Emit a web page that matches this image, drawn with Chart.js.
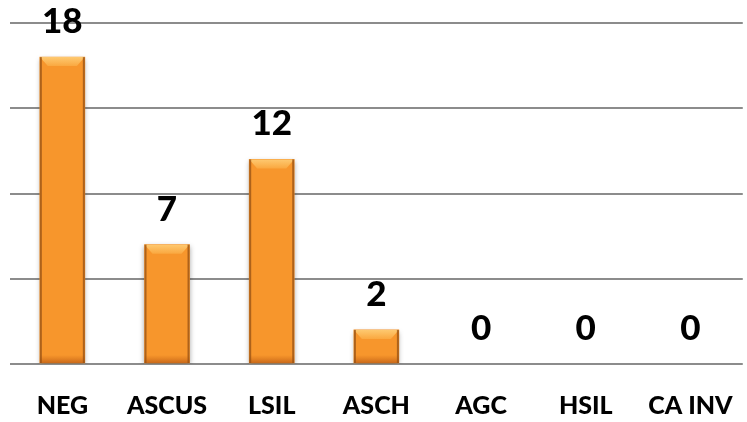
<!DOCTYPE html>
<html>
<head>
<meta charset="utf-8">
<title>Resultados citología</title>
<script src="https://cdn.jsdelivr.net/npm/chart.js@4.4.1/dist/chart.umd.min.js"></script>
<style>
    html, body { margin: 0; padding: 0; background: #fff; overflow: hidden; }
    #wrap { width: 747px; height: 422px; overflow: hidden; }
</style>
</head>
<body>
<div id="wrap"><canvas id="resultsChart" width="760" height="422"></canvas></div>
<script>
// categories and counts
const categories = ["NEG", "ASCUS", "LSIL", "ASCH", "AGC", "HSIL", "CA INV"];
const counts = [18, 7, 12, 2, 0, 0, 0];
const yTicks = [0, 5, 10, 15, 20];

const labelFont = "Lato";

// soft drop shadow behind the bars
const barShadow = {
    id: "barShadow",
    beforeDatasetsDraw(chart) {
        const ctx = chart.ctx;
        ctx.save();
        ctx.shadowColor = "rgba(0,0,0,0.35)";
        ctx.shadowBlur = 5;
        ctx.shadowOffsetX = 0;
        ctx.shadowOffsetY = 2;
    },
    afterDatasetsDraw(chart) {
        chart.ctx.restore();
    }
};

// bevel look: light top face, dark sides, darker bottom band
const barBevel = {
    id: "barBevel",
    afterDatasetsDraw(chart) {
        const ctx = chart.ctx;
        chart.getDatasetMeta(0).data.forEach(bar => {
            const h = bar.base - bar.y;
            if (h < 1) return;
            const l = bar.x - bar.width / 2, r = bar.x + bar.width / 2;
            const t = bar.y, b = bar.base;
            ctx.save();
            // top face
            const g = ctx.createLinearGradient(0, t, 0, t + 9);
            g.addColorStop(0, "#fec970");
            g.addColorStop(1, "#faa840");
            ctx.fillStyle = g;
            ctx.beginPath();
            ctx.moveTo(l, t);
            ctx.lineTo(r, t);
            ctx.lineTo(r - 8, t + 9);
            ctx.lineTo(l + 8, t + 9);
            ctx.closePath();
            ctx.fill();
            // bottom band
            const gb = ctx.createLinearGradient(0, b - 8, 0, b);
            gb.addColorStop(0, "rgba(200,100,20,0)");
            gb.addColorStop(1, "rgba(185,90,20,0.75)");
            ctx.fillStyle = gb;
            ctx.fillRect(l, b - 8, r - l, 8);
            // side edges
            ctx.fillStyle = "rgba(150,80,20,0.75)";
            ctx.fillRect(l, t, 2, h);
            ctx.fillRect(r - 2, t, 2, h);
            ctx.restore();
        });
    }
};

// value labels above each bar
const valueLabels = {
    id: "valueLabels",
    afterDatasetsDraw(chart) {
        const ctx = chart.ctx;
        ctx.save();
        ctx.font = "900 35px " + labelFont;
        ctx.fillStyle = "#000";
        ctx.textAlign = "center";
        ctx.textBaseline = "alphabetic";
        chart.getDatasetMeta(0).data.forEach((bar, i) => {
            ctx.fillText(String(counts[i]), bar.x, bar.y - 24);
        });
        ctx.restore();
    }
};

const ctx = document.getElementById("resultsChart").getContext("2d");

// horizontal shading across each bar
function barFill(context) {
    if (counts[context.dataIndex] === 0) return "rgba(0,0,0,0)";
    const el = context.element;
    if (!el || !el.width) return "#f7962c";
    const l = el.x - el.width / 2;
    const g = context.chart.ctx.createLinearGradient(l, 0, l + el.width, 0);
    g.addColorStop(0, "#e5802a");
    g.addColorStop(0.15, "#f7952a");
    g.addColorStop(0.85, "#f7952a");
    g.addColorStop(1, "#e5802a");
    return g;
}

new Chart(ctx, {
    type: "bar",
    data: {
        labels: categories,
        datasets: [{
            data: counts,
            backgroundColor: barFill,
            borderWidth: 0,
            barThickness: 45
        }]
    },
    options: {
        responsive: false,
        animation: false,
        layout: { padding: { left: 10, right: 5, top: 23, bottom: 0 } },
        plugins: {
            legend: { display: false },
            tooltip: { enabled: false }
        },
        scales: {
            x: {
                grid: { display: false, drawTicks: false },
                border: { display: false },
                afterFit: axis => { axis.height = 58; },
                ticks: {
                    padding: 27,
                    color: "#000",
                    font: { family: labelFont, size: 25, weight: "900" }
                }
            },
            y: {
                min: yTicks[0],
                max: yTicks[yTicks.length - 1],
                afterBuildTicks: axis => { axis.ticks = yTicks.map(v => ({ value: v })); },
                grid: { color: "#8c8c8c", lineWidth: 2, drawTicks: false },
                border: { display: false },
                ticks: { display: false }
            }
        }
    },
    plugins: [barShadow, barBevel, valueLabels]
});
</script>
</body>
</html>
